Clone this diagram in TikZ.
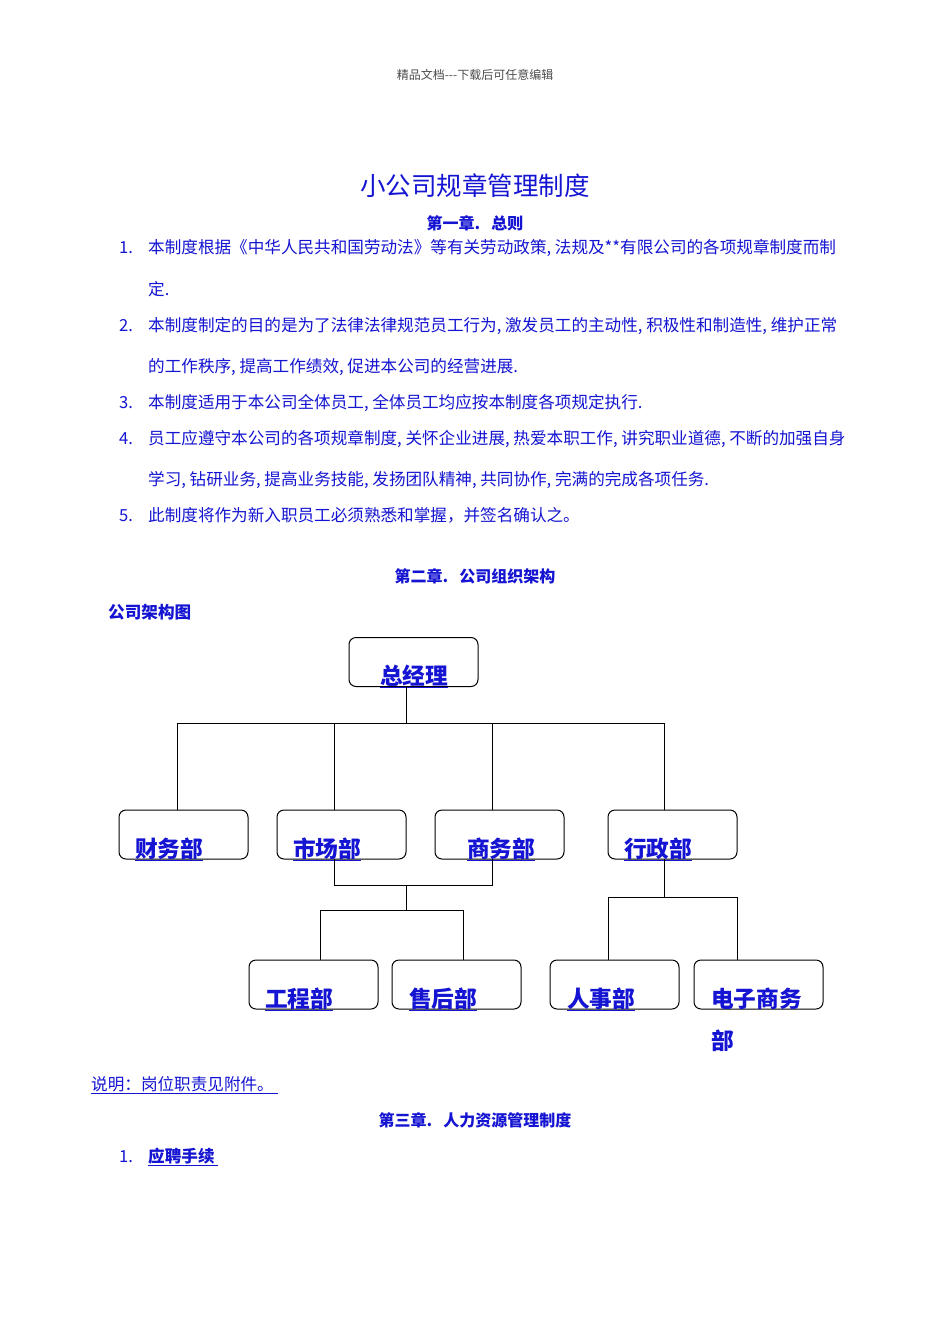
\documentclass[tikz,border=0pt]{standalone}
\usepackage{fontspec}
\setmainfont{Noto Sans CJK SC}
\definecolor{tblue}{RGB}{20,20,210}
\begin{document}
\begin{tikzpicture}[x=1pt,y=-1pt,
  box/.style={draw=black,line width=1pt,rounded corners=7pt,minimum width=129pt,minimum height=49pt,inner sep=0pt},
  lbl/.style={anchor=base west,text=tblue,font=\fontsize{22.7}{23}\selectfont\bfseries,inner sep=0pt},
  txt/.style={anchor=base west,text=tblue,font=\fontsize{16.6}{17}\selectfont,inner sep=0pt},
  head/.style={anchor=base,text=tblue,font=\fontsize{16}{16}\selectfont\bfseries,inner sep=0pt},
  ln/.style={line width=0.8pt}]
\useasboundingbox (0,0) rectangle (950,1344);
\fill[white] (0,0) rectangle (950,1344);
\node[anchor=base,text=black!70,font=\fontsize{12}{12}\selectfont,inner sep=0pt] (hd) at (475,79) {精品文档{-}{-}{-}下载后可任意编辑};
\node[anchor=base,text=tblue,font=\fontsize{25.5}{26}\selectfont,inner sep=0pt] (title) at (475,195) {小公司规章管理制度};
\node[head] (c1) at (475,229) {第一章.\ \ \ 总则};
\foreach \n/\y in {1/253,2/331,3/408,4/444,5/521}{\node[txt] (n\n) at (119,\y) {\n.};}
\node[txt] (t1a) at (148,253) {本制度根据《中华人民共和国劳动法》等有关劳动政策,\ 法规及**有限公司的各项规章制度而制};
\node[txt] (t1b) at (148,295) {定.};
\node[txt] (t2a) at (148,331) {本制度制定的目的是为了法律法律规范员工行为,\ 激发员工的主动性,\ 积极性和制造性,\ 维护正常};
\node[txt] (t2b) at (148,372) {的工作秩序,\ 提高工作绩效,\ 促进本公司的经营进展.};
\node[txt] (t3) at (148,408) {本制度适用于本公司全体员工,\ 全体员工均应按本制度各项规定执行.};
\node[txt] (t4a) at (148,444) {员工应遵守本公司的各项规章制度,\ 关怀企业进展,\ 热爱本职工作,\ 讲究职业道德,\ 不断的加强自身};
\node[txt] (t4b) at (148,485) {学习,\ 钻研业务,\ 提高业务技能,\ 发扬团队精神,\ 共同协作,\ 完满的完成各项任务.};
\node[txt] (t5) at (148,521) {此制度将作为新入职员工必须熟悉和掌握，并签名确认之。};
\node[head] (c2) at (475,582) {第二章.\ \ \ 公司组织架构};
\node[txt,font=\fontsize{16.6}{17}\selectfont\bfseries] (jg) at (108,618) {公司架构图};
% boxes
\node[box] (zjl) at (413.5,662) {};
\node[box] (cw) at (183.5,834.5) {};
\node[box] (sc) at (341.5,834.5) {};
\node[box] (sw) at (499.5,834.5) {};
\node[box] (xz) at (672.5,834.5) {};
\node[box] (gc) at (313.5,984.5) {};
\node[box] (sh) at (456.5,984.5) {};
\node[box] (rs) at (614.5,984.5) {};
\node[box] (dz) at (758.5,984.5) {};
\node[lbl] (lzjl) at (380,684) {\underline{总经理}};
\node[lbl] (lcw) at (135,857) {\underline{财务部}};
\node[lbl] (lsc) at (293,857) {\underline{市场部}};
\node[lbl] (lsw) at (467,857) {\underline{商务部}};
\node[lbl] (lxz) at (624,857) {\underline{行政部}};
\node[lbl] (lgc) at (265,1007) {\underline{工程部}};
\node[lbl] (lsh) at (409,1007) {\underline{售后部}};
\node[lbl] (lrs) at (567,1007) {\underline{人事部}};
\node[lbl] (ldz) at (711,1007) {电子商务};
\node[lbl] (ldz2) at (711,1049) {部};
% connectors
\draw[ln] (zjl.south -| 406,0) -- (406,723);
\draw[ln] (177,810) |- (664,723) -- (664,810);
\draw[ln] (334,723) -- (334,810);
\draw[ln] (492,723) -- (492,810);
\draw[ln] (334,859) |- (492,885) -- (492,859);
\draw[ln] (406,885) -- (406,910);
\draw[ln] (320,960) |- (463,910) -- (463,960);
\draw[ln] (664,859) -- (664,897);
\draw[ln] (608,960) |- (737,897) -- (737,960);
% bottom texts
\node[txt] (sm) at (91,1090) {\underline{说明：岗位职责见附件。\ }};
\node[head] (c3) at (475,1126) {第三章.\ \ \ 人力资源管理制度};
\node[txt] (n6) at (119,1162) {1.};
\node[txt,font=\fontsize{16.6}{17}\selectfont\bfseries] (yp) at (148,1162) {\underline{应聘手续\ }};
\end{tikzpicture}
\end{document}
